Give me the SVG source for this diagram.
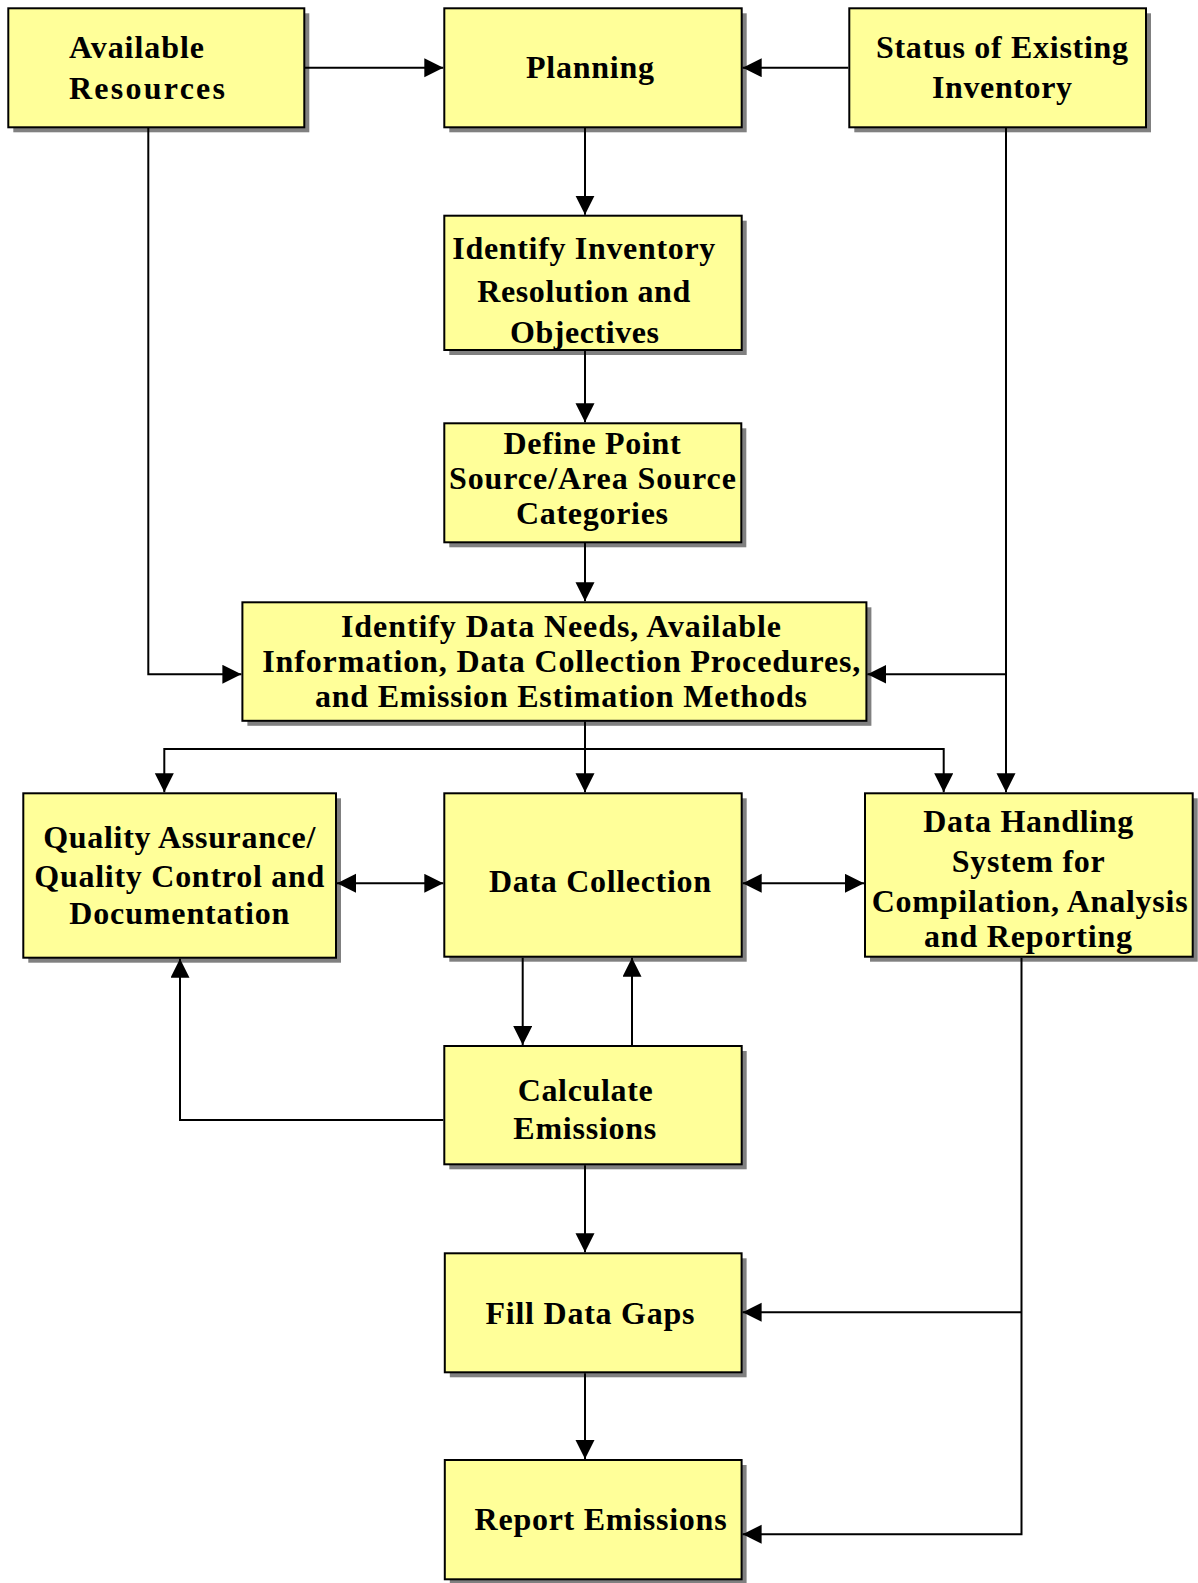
<svg xmlns="http://www.w3.org/2000/svg" width="1198" height="1583" viewBox="0 0 1198 1583">
<style>
.box{fill:#FFFF99;stroke:#000;stroke-width:2}
.sh{fill:#808080}
.t{font-family:"Liberation Serif","Times New Roman",serif;font-weight:bold;font-size:32px;fill:#000}
.c{fill:none;stroke:#000;stroke-width:2}
</style>
<defs>
<marker id="ah" markerUnits="userSpaceOnUse" markerWidth="20" markerHeight="20" refX="19" refY="9.5" orient="auto-start-reverse">
<path d="M0,0 L19,9.5 L0,19 Z" fill="#000"/>
</marker>
</defs>
<rect width="1198" height="1583" fill="#fff"/>

<g id="available">
<rect class="sh" x="13.3" y="13.3" width="296" height="119"/>
<rect class="box" x="8.3" y="8.3" width="296" height="119"/>
<text class="t" x="69" y="58.3" textLength="135" lengthAdjust="spacing">Available</text>
<text class="t" x="69" y="99" textLength="156" lengthAdjust="spacing">Resources</text>
</g>
<g id="planning">
<rect class="sh" x="449.3" y="13.3" width="297.4" height="119"/>
<rect class="box" x="444.3" y="8.3" width="297.4" height="119"/>
<text class="t" x="526" y="78.3" textLength="128" lengthAdjust="spacing">Planning</text>
</g>
<g id="status">
<rect class="sh" x="854.3" y="13.3" width="296.7" height="119"/>
<rect class="box" x="849.3" y="8.3" width="296.7" height="119"/>
<text class="t" x="876" y="58.3" textLength="252" lengthAdjust="spacing">Status of Existing</text>
<text class="t" x="932" y="97.7" textLength="140" lengthAdjust="spacing">Inventory</text>
</g>
<g id="identify-inventory">
<rect class="sh" x="449.3" y="220.7" width="297.4" height="134.3"/>
<rect class="box" x="444.3" y="215.7" width="297.4" height="134.3"/>
<text class="t" x="452.3" y="259.3" textLength="263" lengthAdjust="spacing">Identify Inventory</text>
<text class="t" x="477.3" y="301.7" textLength="213" lengthAdjust="spacing">Resolution and</text>
<text class="t" x="510" y="343.3" textLength="149" lengthAdjust="spacing">Objectives</text>
</g>
<g id="define">
<rect class="sh" x="449.3" y="428.3" width="297" height="119"/>
<rect class="box" x="444.3" y="423.3" width="297" height="119"/>
<text class="t" x="503.6" y="454.3" textLength="177" lengthAdjust="spacing">Define Point</text>
<text class="t" x="448.9" y="489.3" textLength="287" lengthAdjust="spacing">Source/Area Source</text>
<text class="t" x="516" y="524" textLength="152" lengthAdjust="spacing">Categories</text>
</g>
<g id="data-needs">
<rect class="sh" x="247.4" y="607.3" width="624" height="118.5"/>
<rect class="box" x="242.4" y="602.3" width="624" height="118.5"/>
<text class="t" x="341" y="636.7" textLength="440" lengthAdjust="spacing">Identify Data Needs, Available</text>
<text class="t" x="262.3" y="671.7" textLength="598" lengthAdjust="spacing">Information, Data Collection Procedures,</text>
<text class="t" x="315" y="706.7" textLength="492" lengthAdjust="spacing">and Emission Estimation Methods</text>
</g>
<g id="qa">
<rect class="sh" x="28.3" y="798.3" width="312.7" height="164.4"/>
<rect class="box" x="23.3" y="793.3" width="312.7" height="164.4"/>
<text class="t" x="43.3" y="848.3" textLength="272" lengthAdjust="spacing">Quality Assurance/</text>
<text class="t" x="34.3" y="886.7" textLength="290" lengthAdjust="spacing">Quality Control and</text>
<text class="t" x="69.3" y="924.3" textLength="220" lengthAdjust="spacing">Documentation</text>
</g>
<g id="data-collection">
<rect class="sh" x="449.3" y="798.3" width="297.4" height="163.4"/>
<rect class="box" x="444.3" y="793.3" width="297.4" height="163.4"/>
<text class="t" x="489" y="891.7" textLength="222" lengthAdjust="spacing">Data Collection</text>
</g>
<g id="data-handling">
<rect class="sh" x="870" y="798.3" width="327.7" height="163.4"/>
<rect class="box" x="865" y="793.3" width="327.7" height="163.4"/>
<text class="t" x="923.3" y="831.7" textLength="210" lengthAdjust="spacing">Data Handling</text>
<text class="t" x="951.7" y="871.7" textLength="153" lengthAdjust="spacing">System for</text>
<text class="t" x="871.7" y="911.7" textLength="316" lengthAdjust="spacing">Compilation, Analysis</text>
<text class="t" x="924" y="946.7" textLength="208" lengthAdjust="spacing">and Reporting</text>
</g>
<g id="calculate">
<rect class="sh" x="449.3" y="1051" width="297.4" height="118.3"/>
<rect class="box" x="444.3" y="1046" width="297.4" height="118.3"/>
<text class="t" x="517.7" y="1101" textLength="135" lengthAdjust="spacing">Calculate</text>
<text class="t" x="513.3" y="1139.3" textLength="143" lengthAdjust="spacing">Emissions</text>
</g>
<g id="fill-gaps">
<rect class="sh" x="449.8" y="1258.3" width="296.8" height="119"/>
<rect class="box" x="444.8" y="1253.3" width="296.8" height="119"/>
<text class="t" x="485.5" y="1324" textLength="209" lengthAdjust="spacing">Fill Data Gaps</text>
</g>
<g id="report">
<rect class="sh" x="449.8" y="1465" width="296.8" height="119.3"/>
<rect class="box" x="444.8" y="1460" width="296.8" height="119.3"/>
<text class="t" x="474.6" y="1530" textLength="252" lengthAdjust="spacing">Report Emissions</text>
</g>

<g id="connectors">
<path class="c" d="M305,67.7 L443.3,67.7" marker-end="url(#ah)"/>
<path class="c" d="M848.3,67.7 L742.7,67.7" marker-end="url(#ah)"/>
<path class="c" d="M585,128 L585,214.7" marker-end="url(#ah)"/>
<path class="c" d="M585,351 L585,422.3" marker-end="url(#ah)"/>
<path class="c" d="M585,543 L585,601.3" marker-end="url(#ah)"/>
<path class="c" d="M148.3,128 L148.3,674.3 L241.4,674.3" marker-end="url(#ah)"/>
<path class="c" d="M1006,128 L1006,792.3" marker-end="url(#ah)"/>
<path class="c" d="M1006,674.3 L867.4,674.3" marker-end="url(#ah)"/>
<path class="c" d="M585,721.5 L585,792.3" marker-end="url(#ah)"/>
<path class="c" d="M585,749 L164.3,749 L164.3,792.3" marker-end="url(#ah)"/>
<path class="c" d="M585,749 L943.7,749 L943.7,792.3" marker-end="url(#ah)"/>
<path class="c" d="M337,883.3 L443.3,883.3" marker-start="url(#ah)" marker-end="url(#ah)"/>
<path class="c" d="M742.7,883.3 L864,883.3" marker-start="url(#ah)" marker-end="url(#ah)"/>
<path class="c" d="M522.7,957.7 L522.7,1045" marker-end="url(#ah)"/>
<path class="c" d="M632,1045 L632,957.7" marker-end="url(#ah)"/>
<path class="c" d="M443.3,1120 L180,1120 L180,958.7" marker-end="url(#ah)"/>
<path class="c" d="M585,1165.3 L585,1252.3" marker-end="url(#ah)"/>
<path class="c" d="M585,1373.3 L585,1459" marker-end="url(#ah)"/>
<path class="c" d="M1021.5,957.7 L1021.5,1534.3 L742.6,1534.3" marker-end="url(#ah)"/>
<path class="c" d="M1021.5,1312.3 L742.6,1312.3" marker-end="url(#ah)"/>
</g>
</svg>
